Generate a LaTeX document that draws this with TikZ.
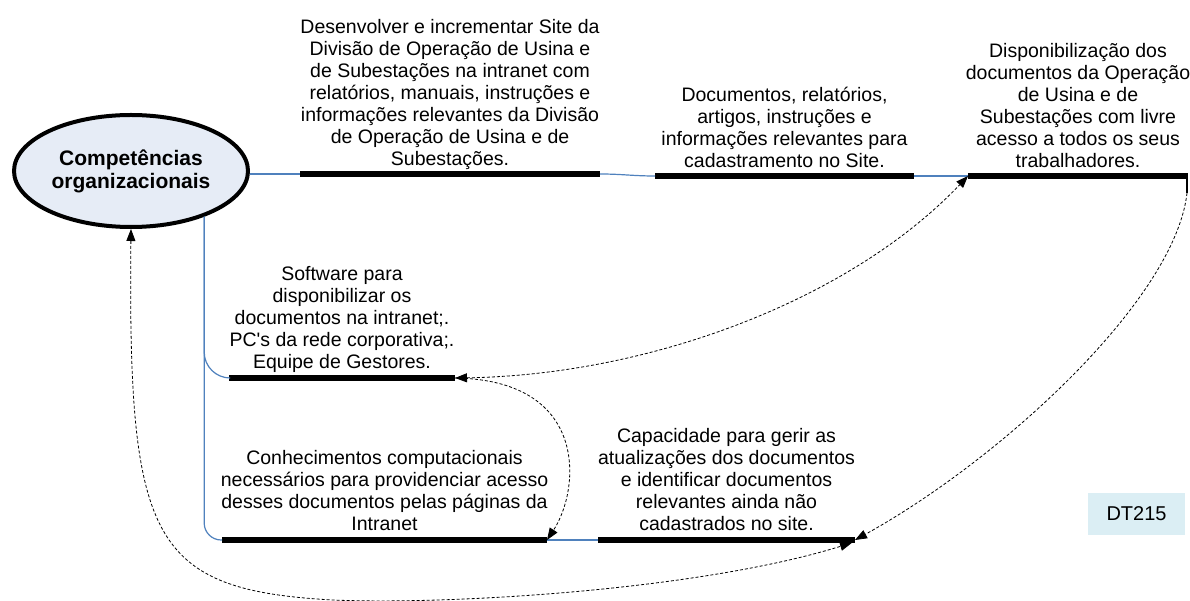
\documentclass[tikz,border=0pt]{standalone}
\usepackage{fontspec}
\setmainfont{Liberation Sans}
\usetikzlibrary{arrows.meta,shapes.geometric}
\definecolor{bluel}{HTML}{4F81BD}
\definecolor{ellfill}{HTML}{E6ECF6}
\definecolor{dtfill}{HTML}{DBEEF4}
\begin{document}
\begin{tikzpicture}[x=1pt,y=-1pt,
  bar/.style={fill=black, inner sep=0pt, outer sep=0pt, minimum height=5.5pt, draw=none},
  lbl/.style={align=center, inner sep=0pt, anchor=south, font=\fontsize{19.5}{22}\selectfont},
  conn/.style={draw=bluel, line width=1.2pt},
  dep/.style={draw=black, line width=0.8pt, dash pattern=on 3pt off 2pt},
  tri/.tip={Triangle[length=12pt,width=9pt]},
  onetip/.style={-tri},
  twotip/.style={tri-tri}
]
\useasboundingbox (0,0) rectangle (1190,601);

% central competence
\node[ellipse, draw=black, line width=4pt, fill=ellfill, minimum width=234pt, minimum height=112pt,
      inner sep=0pt, align=center, font=\bfseries\fontsize{21}{23}\selectfont]
      (comp) at (131,171) {Competências\\organizacionais};

% bars
\node[bar, minimum width=300pt] (b1) at (450,174) {};
\node[bar, minimum width=259pt] (b2) at (784.5,176) {};
\node[bar, minimum width=220pt] (b3) at (1078,176) {};
\node[bar, minimum width=226pt] (b4) at (342,378) {};
\node[bar, minimum width=325pt] (b5) at (384.5,540) {};
\node[bar, minimum width=257pt] (b6) at (726.5,540) {};

% labels
\node[lbl] (t1) at ([yshift=2pt]b1.center) {Desenvolver e incrementar Site da\\Divisão de Operação de Usina e\\de Subestações na intranet com\\relatórios, manuais, instruções e\\informações relevantes da Divisão\\de Operação de Usina e de\\Subestações.\strut};
\node[lbl] (t2) at ([yshift=2pt]b2.center) {Documentos, relatórios,\\artigos, instruções e\\informações relevantes para\\cadastramento no Site.\strut};
\node[lbl] (t3) at ([yshift=2pt]b3.center) {Disponibilização dos\\documentos da Operação\\de Usina e de\\Subestações com livre\\acesso a todos os seus\\trabalhadores.\strut};
\node[lbl] (t4) at ([yshift=3pt]b4.center) {Software para\\disponibilizar os\\documentos na intranet;.\\PC\textquotesingle s da rede corporativa;.\\Equipe de Gestores.\strut};
\node[lbl] (t5) at ([yshift=3pt]b5.center) {Conhecimentos computacionais\\necessários para providenciar acesso\\desses documentos pelas páginas da\\Intranet\strut};
\node[lbl] (t6) at ([yshift=3pt]b6.center) {Capacidade para gerir as\\atualizações dos documentos\\e identificar documentos\\relevantes ainda não\\cadastrados no site.\strut};

% DT215 tag
\node[fill=dtfill, minimum width=97pt, minimum height=42pt, inner sep=0pt,
      font=\fontsize{20}{22}\selectfont] (dt) at (1136.5,514) {DT215};

% blue connectors
\draw[conn] (comp.east |- b1.west) -- (b1.west);
\draw[conn] (b1.east) to[out=0,in=180] (b2.west);
\draw[conn] (b2.east) -- (b3.west);
\draw[conn] (b5.east) -- (b6.west);
\draw[conn, rounded corners=26pt] (comp.-32) |- (b4.west);
\draw[conn, rounded corners=17pt] (comp.-32) |- (b5.west);

% end tick of the last top bar
\coordinate (t3end) at ([xshift=-1pt, yshift=-17pt]b3.east);
\draw[line width=2pt] ([xshift=-1pt]b3.east) -- (t3end);

% dashed relations
\draw[dep, twotip] (b4.east) .. controls (650,375) and (850,300) .. (b3.west);
\draw[dep, onetip] (b4.east) .. controls (590,380) and (580,490) .. (b5.east);
\draw[dep, onetip] (t3end) .. controls (1175,300) and (1000,460) .. (b6.east);
\coordinate (low) at (333,600);
\draw[dep, twotip] (comp.south) .. controls (128,540) and (150,590) .. (low)
      .. controls (450,605) and (700,590) .. ([xshift=-3pt]b6.south east);
\end{tikzpicture}
\end{document}
